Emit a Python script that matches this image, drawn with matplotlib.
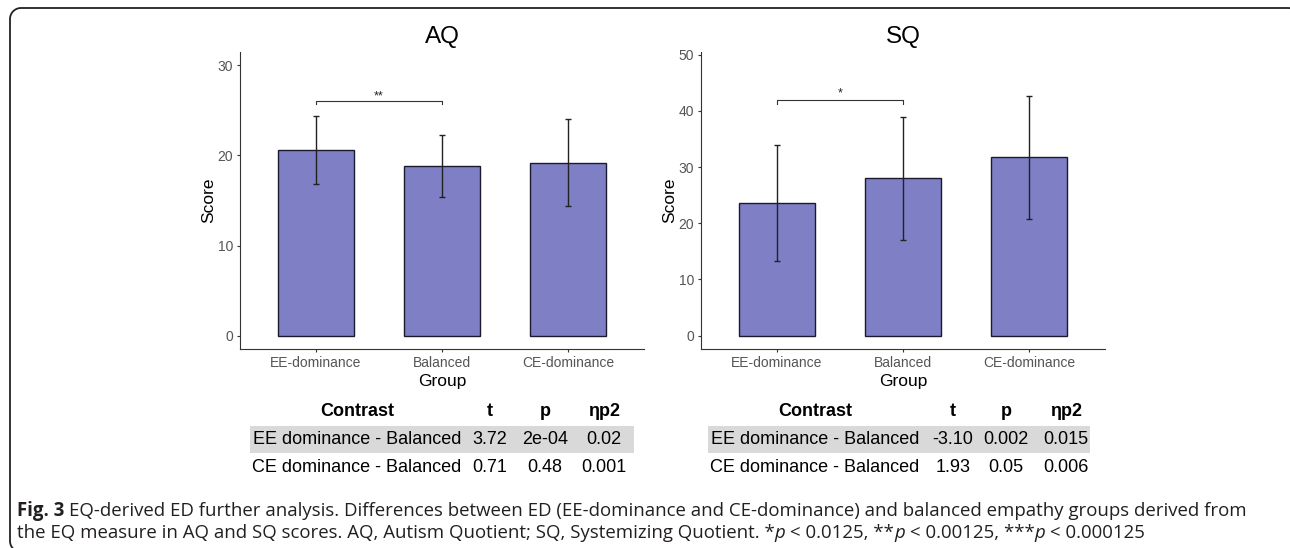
import matplotlib
matplotlib.use("Agg")
import matplotlib.pyplot as plt
from matplotlib.patches import Rectangle
import numpy as np

# ---------------- data ----------------
groups = ["EE-dominance", "Balanced", "CE-dominance"]
aq_mean = [20.6, 18.85, 19.2]
aq_err = [3.75, 3.45, 4.8]
sq_mean = [23.6, 28.0, 31.7]
sq_err = [10.3, 10.9, 11.0]
aq_ticks = [0, 10, 20, 30]
sq_ticks = [0, 10, 20, 30, 40, 50]
aq_sig = "**"
sq_sig = "*"
aq_sig_y = 26.0
sq_sig_y = 42.0

table_header = ["Contrast", "t", "p", "ηp2"]
contrasts = ["EE dominance - Balanced", "CE dominance - Balanced"]
aq_t = ["3.72", "0.71"]
aq_p = ["2e-04", "0.48"]
aq_eta = ["0.02", "0.001"]
sq_t = ["-3.10", "1.93"]
sq_p = ["0.002", "0.05"]
sq_eta = ["0.015", "0.006"]

caption_line1 = [("Fig. 3", "bold", "normal"),
                 (" EQ-derived ED further analysis. Differences between ED (EE-dominance and CE-dominance) and balanced empathy groups derived from", "normal", "normal")]
caption_line2 = [("the EQ measure in AQ and SQ scores. AQ, Autism Quotient; SQ, Systemizing Quotient. *", "normal", "normal"),
                 ("p", "normal", "italic"),
                 (" < 0.0125, **", "normal", "normal"),
                 ("p", "normal", "italic"),
                 (" < 0.00125, ***", "normal", "normal"),
                 ("p", "normal", "italic"),
                 (" < 0.000125", "normal", "normal")]

# ---------------- style ----------------
plt.rcParams['font.family'] = ['Liberation Sans', 'DejaVu Sans']
BAR = '#7F7FC5'
EDGE = '#1a1a2e'
AXC = '#333333'
TICKC = '#555555'

W, H = 1290, 548
fig = plt.figure(figsize=(W / 100, H / 100), dpi=100)
fig.patch.set_facecolor('white')


def px_axes(x0, y0, x1, y1):
    return [x0 / W, 1 - y1 / H, (x1 - x0) / W, (y1 - y0) / H]


def panel(ax, title, means, errs, ticks, ylim, sig_text, sig_y, tip, star_px):
    x = np.arange(1, len(groups) + 1)
    ax.bar(x, means, width=0.6, color=BAR, edgecolor=EDGE, linewidth=1.0, zorder=2)
    ax.errorbar(x, means, yerr=errs, fmt='none', ecolor='#222222', elinewidth=1.0,
                capsize=2, capthick=1.0, zorder=3)
    ax.set_xlim(0.4, 3.6)
    ax.set_ylim(*ylim)
    ax.set_xticks(x)
    ax.set_xticklabels(groups)
    ax.set_yticks(ticks)
    for s in ['top', 'right']:
        ax.spines[s].set_visible(False)
    for s in ['left', 'bottom']:
        ax.spines[s].set_color(AXC)
        ax.spines[s].set_linewidth(0.8)
    ax.tick_params(axis='both', colors=AXC, length=2.5, width=0.8, labelsize=10,
                   labelcolor=TICKC, pad=2.5)
    ax.set_title(title, fontsize=17.5, pad=6.5, color='black')
    ax.set_ylabel("Score", fontsize=12.5, color='black')
    ax.set_xlabel("Group", fontsize=12.5, color='black')
    ax.yaxis.set_label_coords(-0.058, 0.5)
    ax.xaxis.set_label_coords(0.5, -0.083)
    # significance bracket
    ax.plot([1, 1, 2, 2], [sig_y - tip, sig_y, sig_y, sig_y - tip], color=AXC,
            linewidth=0.8, zorder=3)
    ax.annotate(sig_text, xy=(1.5, sig_y), xytext=(0, star_px), textcoords='offset pixels',
                ha='center', va='baseline', fontsize=9, color='#222222')


ax1 = fig.add_axes(px_axes(240, 52, 644, 349))
panel(ax1, "AQ", aq_mean, aq_err, aq_ticks, (-1.45, 31.45), aq_sig, aq_sig_y, 0.35, 2)
ax2 = fig.add_axes(px_axes(701, 52, 1105, 349))
panel(ax2, "SQ", sq_mean, sq_err, sq_ticks, (-2.36, 50.45), sq_sig, sq_sig_y, 0.8, 2.7)

# ---------------- overlay: frame, tables, caption ----------------
ov = fig.add_axes([0, 0, 1, 1], zorder=-1)
ov.set_xlim(0, W)
ov.set_ylim(H, 0)
ov.axis('off')
ov.patch.set_alpha(0)

# rounded frame (visible sides only: top, left and three corners)
R = 11
FL, FT, FR, FB = 10, 8, 1299, 552
th = np.linspace(0, np.pi / 2, 20)
tr_x = (FR - R) + R * np.sin(th)
tr_y = (FT + R) - R * np.cos(th)
tl_x = (FL + R) - R * np.sin(th[::-1])
tl_y = (FT + R) - R * np.cos(th[::-1])
bl_x = (FL + R) - R * np.cos(th)
bl_y = (FB - R) + R * np.sin(th)
frame_x = np.concatenate([tr_x[::-1], tl_x[::-1], bl_x])
frame_y = np.concatenate([tr_y[::-1], tl_y[::-1], bl_y])
ov.plot(frame_x, frame_y, color='#222222', linewidth=1.3, clip_on=False,
        solid_capstyle='butt')

row_y = [412, 440, 467]


def table(x_cols, shade_x0, shade_x1, tvals, pvals, evals):
    ov.add_patch(Rectangle((shade_x0, 426), shade_x1 - shade_x0, 27, facecolor='#D9D9D9',
                           edgecolor='none'))
    for j, h in enumerate(table_header):
        ov.text(x_cols[j], row_y[0], h, ha='center', va='center', fontsize=13,
                fontweight='bold', color='black')
    for i in range(len(contrasts)):
        vals = [contrasts[i], tvals[i], pvals[i], evals[i]]
        for j, v in enumerate(vals):
            ov.text(x_cols[j], row_y[i + 1], v, ha='center', va='center', fontsize=13,
                    color='black')


table([357, 490, 545, 604], 250, 634, aq_t, aq_p, aq_eta)
table([815, 953, 1006, 1066], 708, 1090, sq_t, sq_p, sq_eta)

renderer = fig.canvas.get_renderer()
CAP_FS = 13.45
CAP_FONT = ['Open Sans', 'DejaVu Sans']
CAP_C = '#231F20'


def text_w(s, **kw):
    t = ov.text(0, 0, s, fontsize=CAP_FS, family=CAP_FONT, **kw)
    w = t.get_window_extent(renderer).width
    t.remove()
    return w


space_w = text_w("a a") - text_w("aa")


def runs(x, y, items):
    for s, wt, st in items:
        lead = len(s) - len(s.lstrip(' '))
        trail = len(s) - len(s.rstrip(' '))
        x += lead * space_w
        core = s.strip(' ')
        t = ov.text(x, y, core, fontsize=CAP_FS, family=CAP_FONT, fontweight=wt,
                    fontstyle=st, color=CAP_C, ha='left', va='baseline')
        x = t.get_window_extent(renderer).x1 + trail * space_w
    return x


runs(17, 516, caption_line1)
runs(17, 538, caption_line2)

fig.savefig("out.png", dpi=100, facecolor='white')
